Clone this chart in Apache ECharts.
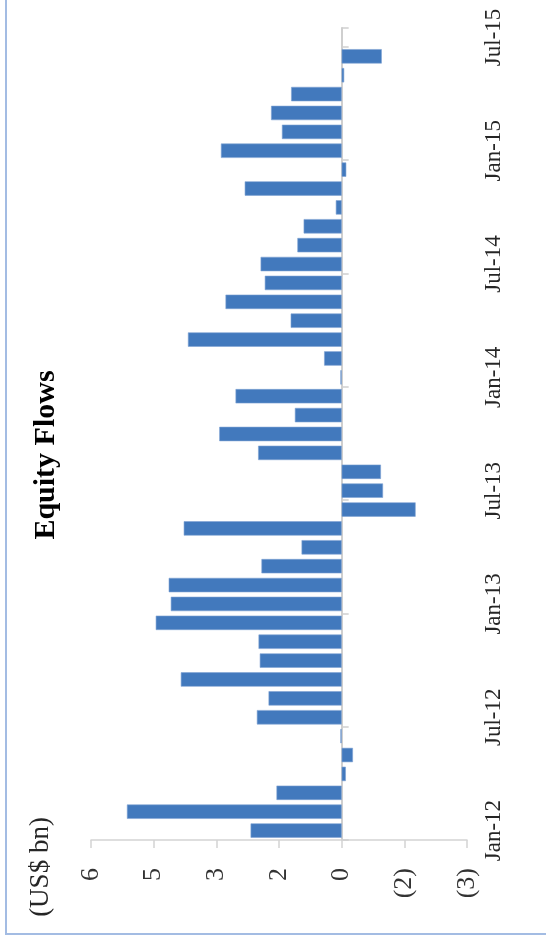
<!DOCTYPE html>
<html>
<head>
<meta charset="utf-8">
<script src="https://cdn.jsdelivr.net/npm/echarts@6/dist/echarts.min.js"></script>
<style>
  html, body { margin: 0; padding: 0; background: #ffffff; }
  #chart { width: 546px; height: 937px; }
</style>
</head>
<body>
<div id="chart"></div>
<script>
// Categories (monthly, Jan-12 .. Jul-15)
const months = [
  'Jan-12','Feb-12','Mar-12','Apr-12','May-12','Jun-12','Jul-12','Aug-12','Sep-12','Oct-12','Nov-12','Dec-12',
  'Jan-13','Feb-13','Mar-13','Apr-13','May-13','Jun-13','Jul-13','Aug-13','Sep-13','Oct-13','Nov-13','Dec-13',
  'Jan-14','Feb-14','Mar-14','Apr-14','May-14','Jun-14','Jul-14','Aug-14','Sep-14','Oct-14','Nov-14','Dec-14',
  'Jan-15','Feb-15','Mar-15','Apr-15','May-15','Jun-15','Jul-15'
];
// Equity flows, US$ bn
const equityFlows = [
  2.18, 5.14, 1.56, -0.10, -0.27, 0.03, 2.03, 1.75, 3.85, 1.96, 1.99, 4.45,
  4.09, 4.14, 1.92, 0.96, 3.78, -1.77, -0.99, -0.94, 2.00, 2.93, 1.12, 2.54,
  0.03, 0.42, 3.68, 1.22, 2.78, 1.84, 1.94, 1.06, 0.91, 0.14, 2.32, -0.11,
  2.89, 1.43, 1.69, 1.21, -0.06, -0.96, null
];
// Value axis ticks and their printed labels
const valueTicks = [-3, -1.5, 0, 1.5, 3, 4.5, 6];
const valueTickLabels = ['(3)', '(2)', '0', '2', '3', '5', '6'];

const titleText = 'Equity Flows';
const unitText = '(US$ bn)';

const FONT = '"Liberation Serif", "Times New Roman", serif';

const chart = echarts.init(document.getElementById('chart'), null, { renderer: 'canvas' });

chart.setOption({
  animation: false,
  backgroundColor: '#ffffff',
  grid: { left: 91, right: 79, top: 28, bottom: 97, containLabel: false },
  xAxis: {
    type: 'value',
    inverse: true,
    min: -3,
    max: 6,
    interval: 1.5,
    splitLine: { show: false },
    axisLine: { show: true, lineStyle: { color: '#d4d4d4', width: 1.5 } },
    axisTick: { show: true, length: 8, lineStyle: { color: '#d4d4d4', width: 1.5 } },
    axisLabel: {
      rotate: 90,
      margin: 28,
      color: '#333333',
      fontFamily: FONT,
      fontSize: 26,
      formatter: function (v) {
        const i = valueTicks.findIndex(t => Math.abs(t - v) < 1e-9);
        return i >= 0 ? valueTickLabels[i] : '';
      }
    }
  },
  yAxis: [
    {
      type: 'category',
      data: months,
      position: 'left',
      axisLine: { show: true, onZero: true, lineStyle: { color: '#cfcfcf', width: 2 } },
      axisTick: { show: true, inside: true, interval: 5, length: 7, lineStyle: { color: '#cfcfcf', width: 1.5 } },
      axisLabel: { show: false },
      splitLine: { show: false }
    },
    {
      type: 'category',
      data: months,
      position: 'right',
      axisLine: { show: false, onZero: false },
      axisTick: { show: false },
      splitLine: { show: false },
      axisLabel: {
        show: true,
        interval: 5,
        rotate: 90,
        margin: 15,
        color: '#262626',
        fontFamily: FONT,
        fontSize: 23
      }
    }
  ],
  series: [
    {
      type: 'bar',
      xAxisIndex: 0,
      yAxisIndex: 0,
      data: equityFlows,
      barCategoryGap: '24%',
      itemStyle: { color: '#4279bd', borderColor: '#7fa3d3', borderWidth: 0.6 }
    }
  ],
  graphic: [
    {
      type: 'rect',
      shape: { x: 6, y: -10, width: 570, height: 944 },
      style: { fill: 'none', stroke: '#a3bce3', lineWidth: 2 },
      silent: true
    },
    {
      type: 'text',
      x: 46,
      y: 455,
      rotation: Math.PI / 2,
      style: {
        text: titleText,
        font: 'bold 30px ' + FONT,
        fill: '#000000',
        textAlign: 'center',
        textVerticalAlign: 'middle'
      }
    },
    {
      type: 'text',
      x: 41,
      y: 867,
      rotation: Math.PI / 2,
      style: {
        text: unitText,
        font: '27px ' + FONT,
        fill: '#262626',
        textAlign: 'center',
        textVerticalAlign: 'middle'
      }
    }
  ]
});
</script>
</body>
</html>
